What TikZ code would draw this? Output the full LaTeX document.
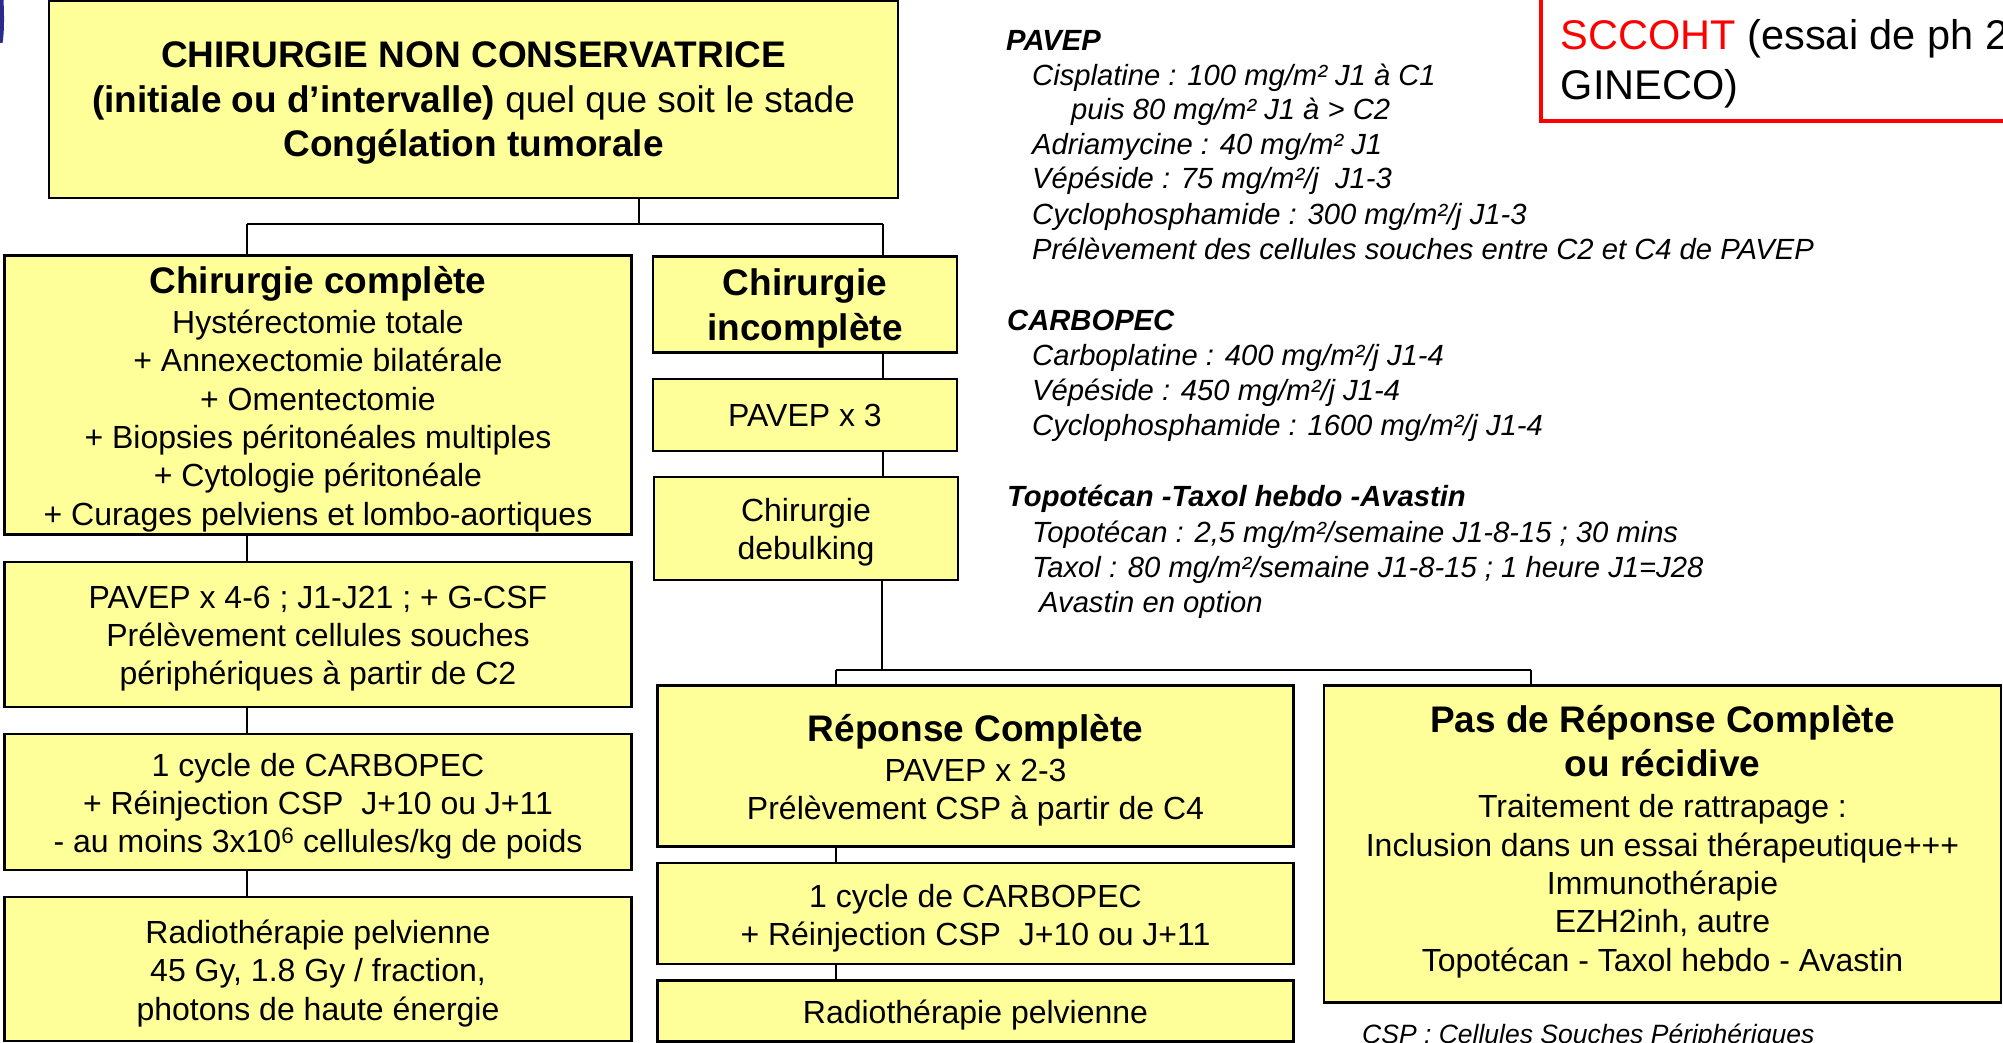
\documentclass[tikz,border=0pt]{standalone}
\usepackage{fontspec}
\setmainfont{Liberation Sans}
\definecolor{boxyellow}{HTML}{FFFF99}
\definecolor{sliverblue}{HTML}{2B2B8C}
\newcommand{\hdfont}{\fontsize{37}{44.7}\selectfont\bfseries}
\begin{document}
\begin{tikzpicture}[x=1pt,y=-1pt,
  box/.style={draw=black, line width=2.5pt, fill=boxyellow, inner sep=0pt},
  btext/.style={inner sep=0pt, align=center, font=\fontsize{32}{38.3}\selectfont},
  conn/.style={draw=black, line width=2pt},
  rt/.style={anchor=base west, inner sep=0pt, font=\fontsize{29.2}{35}\selectfont\itshape},
  rh/.style={anchor=base west, inner sep=0pt, font=\fontsize{29.2}{35}\selectfont\bfseries\itshape}]
\useasboundingbox (0,0) rectangle (2003,1043);
\clip (0,0) rectangle (2003,1043);
\fill[white] (0,0) rectangle (2003,1043);

% blue sliver at the top-left edge
\fill[sliverblue] (0,0) -- (3.5,0) .. controls (4.5,20) and (4,35) .. (2.5,43) -- (0,43) -- cycle;

% ---------- boxes ----------
\node[box, minimum width=849pt, minimum height=197pt] (top) at (473.5,99.5) {};
\node[btext, font=\fontsize{37}{44.7}\selectfont] (toptxt) at ([yshift=-3.8pt]top.center)
  {\textbf{CHIRURGIE NON CONSERVATRICE}\\ \textbf{(initiale ou d’intervalle)} quel que soit le stade\\ \textbf{Congélation tumorale}};

\node[box, minimum width=627pt, minimum height=279pt] (comp) at (318,395) {};
\node[btext] (comptxt) at ([yshift=-3.8pt]comp.center)
  {{\hdfont Chirurgie complète}\\[2.2pt] Hystérectomie totale\\ + Annexectomie bilatérale\\ + Omentectomie\\ + Biopsies péritonéales multiples\\ + Cytologie péritonéale\\ + Curages pelviens et lombo-aortiques};

\node[box, minimum width=304pt, minimum height=96pt] (incomp) at (805,304.5) {};
\node[btext, font=\hdfont] (incomptxt) at ([yshift=-3.8pt]incomp.center) {Chirurgie\\ incomplète};

\node[box, minimum width=304pt, minimum height=72pt] (pavepthree) at (805,415) {};
\node[btext] (pavepthreetxt) at (pavepthree.center) {PAVEP x 3};

\node[box, minimum width=304pt, minimum height=103pt] (debulk) at (806,528.7) {};
\node[btext] (debulktxt) at ([yshift=-3.8pt]debulk.center) {Chirurgie\\ debulking};

\node[box, minimum width=627pt, minimum height=145pt] (pavepfour) at (318,634.3) {};
\node[btext] (pavepfourtxt) at ([yshift=-4.2pt]pavepfour.center)
  {PAVEP x 4-6 ; J1-J21 ; + G-CSF\\ Prélèvement cellules souches\\ périphériques à partir de C2};

\node[box, minimum width=627pt, minimum height=136pt] (carbone) at (318,801.8) {};
\node[btext] (carbonetxt) at ([yshift=-4.6pt]carbone.center)
  {1 cycle de CARBOPEC\\ + Réinjection CSP\ \ J+10 ou J+11\\ - au moins 3x10\textsuperscript{6} cellules/kg de poids};

\node[box, minimum width=627pt, minimum height=144pt] (radione) at (318,969) {};
\node[btext] (radionetxt) at ([yshift=-4.5pt]radione.center)
  {Radiothérapie pelvienne\\ 45 Gy, 1.8 Gy / fraction,\\ photons de haute énergie};

\node[box, minimum width=636pt, minimum height=160.6pt] (rc) at (975.5,766) {};
\node[btext] (rctxt) at ([yshift=-4.5pt]rc.center)
  {{\hdfont Réponse Complète}\\[1pt] PAVEP x 2-3\\ Prélèvement CSP à partir de C4};

\node[box, minimum width=636pt, minimum height=101pt] (carbtwo) at (975.5,913.3) {};
\node[btext] (carbtwotxt) at ([yshift=-5pt]carbtwo.center)
  {1 cycle de CARBOPEC\\ + Réinjection CSP\ \ J+10 ou J+11};

\node[box, minimum width=636pt, minimum height=61pt] (raditwo) at (975.5,1011.2) {};
\node[btext] (raditwotxt) at ([yshift=-3.8pt]raditwo.center) {Radiothérapie pelvienne};

\node[box, minimum width=677pt, minimum height=317pt] (prc) at (1662.5,844.2) {};
\node[btext] (prctxt) at ([yshift=2.5pt]prc.center)
  {{\hdfont Pas de Réponse Complète}\\[5.1pt]{\hdfont ou récidive}\\[3.2pt] Traitement de rattrapage :\\ Inclusion dans un essai thérapeutique+++\\ Immunothérapie\\ EZH2inh, autre\\ Topotécan - Taxol hebdo - Avastin};

% ---------- connectors ----------
\coordinate (jtop) at (639,224);
\coordinate (jl) at (246.5,224);
\coordinate (jr) at (883,224);
\draw[conn] (top.south -| jtop) -- (jtop);
\draw[conn] (jl) -- (jr);
\draw[conn] (jl) -- (comp.north -| jl);
\draw[conn] (jr) -- (incomp.north -| jr);
\draw[conn] (incomp.south -| jr) -- (pavepthree.north -| jr);
\draw[conn] (pavepthree.south -| jr) -- (debulk.north -| jr);
\draw[conn] (comp.south -| jl) -- (pavepfour.north -| jl);
\draw[conn] (pavepfour.south -| jl) -- (carbone.north -| jl);
\draw[conn] (carbone.south -| jl) -- (radione.north -| jl);

\coordinate (jmid) at (881.5,670);
\coordinate (jml) at (835.5,670);
\coordinate (jmr) at (1531,670);
\draw[conn] (debulk.south -| jmid) -- (jmid);
\draw[conn] (jml) -- (jmr);
\draw[conn] (jml) -- (rc.north -| jml);
\draw[conn] (jmr) -- (prc.north -| jmr);
\draw[conn] (rc.south -| jml) -- (carbtwo.north -| jml);
\draw[conn] (carbtwo.south -| jml) -- (raditwo.north -| jml);

% ---------- right-hand protocol text ----------
\node[rh] (hpavep) at (1006,50.6) {PAVEP};
\node[rt] (l1) at (1032,85.4) {Cisplatine : 100 mg/m² J1 à C1};
\node[rt] (l2) at (1071,119.9) {puis 80 mg/m² J1 à > C2};
\node[rt] (l3) at (1032,154.3) {Adriamycine : 40 mg/m² J1};
\node[rt] (l4) at (1032,188.8) {Vépéside : 75 mg/m²/j\ \ J1-3};
\node[rt] (l5) at (1032,224.6) {Cyclophosphamide : 300 mg/m²/j J1-3};
\node[rt] (l6) at (1032,259.1) {Prélèvement des cellules souches entre C2 et C4 de PAVEP};
\node[rh] (hcarbo) at (1007,330.6) {CARBOPEC};
\node[rt] (l7) at (1032,365.1) {Carboplatine : 400 mg/m²/j J1-4};
\node[rt] (l8) at (1032,400.9) {Vépéside : 450 mg/m²/j J1-4};
\node[rt] (l9) at (1032,435.4) {Cyclophosphamide : 1600 mg/m²/j J1-4};
\node[rh] (htopo) at (1007,506.9) {Topotécan -Taxol hebdo -Avastin};
\node[rt] (l10) at (1032,542.7) {Topotécan : 2,5 mg/m²/semaine J1-8-15 ; 30 mins};
\node[rt] (l11) at (1032,577.2) {Taxol : 80 mg/m²/semaine J1-8-15 ; 1 heure J1=J28};
\node[rt] (l12) at (1039,612.9) {Avastin en option};

% footnote
\node[anchor=base west, inner sep=0pt, font=\fontsize{26.5}{32}\selectfont\itshape] (foot) at (1362,1043)
  {CSP : Cellules Souches Périphériques};

% ---------- red SCCOHT box ----------
\draw[red, line width=4pt] (2100,-20) rectangle (1541.3,121.3);
\node[anchor=base west, inner sep=0pt, font=\fontsize{41.5}{50}\selectfont] (scone) at (1560.6,49.3)
  {\textcolor{red}{SCCOHT} (essai de ph 2};
\node[anchor=base west, inner sep=0pt, font=\fontsize{41.5}{50}\selectfont] (sctwo) at (1560.6,100) {GINECO)};
\end{tikzpicture}
\end{document}
